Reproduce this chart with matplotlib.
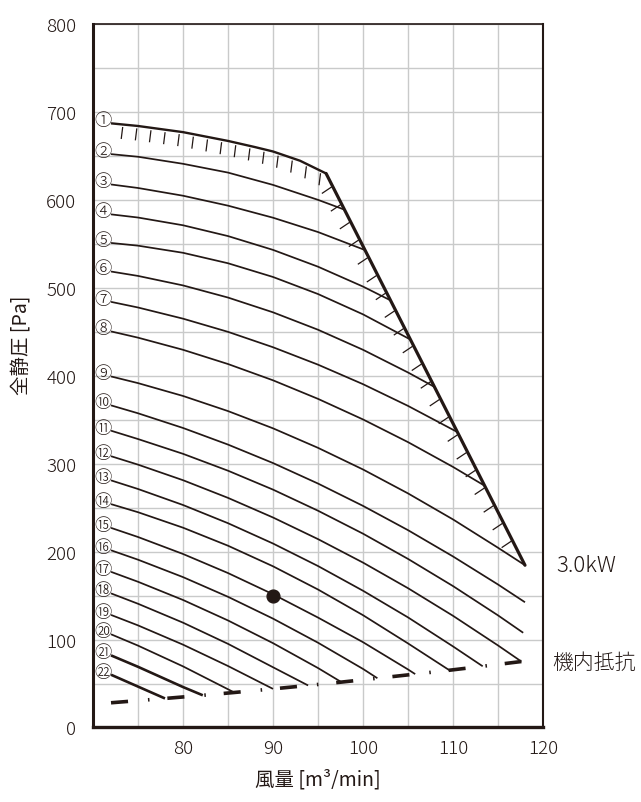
import matplotlib.pyplot as plt
import numpy as np
from matplotlib.collections import LineCollection
from matplotlib.transforms import IdentityTransform

plt.rcParams['font.family'] = ['Noto Sans CJK JP', 'DejaVu Sans']
plt.rcParams['font.weight'] = 'light'
plt.rcParams['lines.scale_dashes'] = False

INK = "#231815"
GRID = "#c9caca"

# fan curves 1..22 : airflow [m3/min] / total static pressure [Pa]
c1_x = [72, 75, 80, 85, 88, 90, 93, 95.9]
c1_p = [687, 684, 677, 667, 660, 655, 644.5, 630]
c2_x = [72, 75, 80, 85, 90, 95, 97.9]
c2_p = [652, 649, 641, 631, 617, 600, 589]
c3_x = [72, 75, 80, 85, 90, 95, 100.2]
c3_p = [617.5, 613.5, 604.7, 593.4, 579.7, 563.4, 543]
c4_x = [72, 75, 80, 85, 90, 95, 100, 103]
c4_p = [583.5, 579.9, 571.1, 558.8, 543.1, 524, 501.4, 486]
c5_x = [72, 75, 80, 85, 90, 95, 100, 105.3]
c5_p = [551, 547.9, 539.8, 527.9, 512.3, 492.9, 469.8, 441]
c6_x = [72, 75, 80, 85, 90, 95, 100, 105, 107.9]
c6_p = [518.5, 513.5, 502.7, 488.9, 472.1, 452.3, 429.5, 403.7, 387.5]
c7_x = [72, 75, 80, 85, 90, 95, 100, 105, 110.4]
c7_p = [484, 477.6, 464.9, 449.9, 432.4, 412.6, 390.4, 365.7, 336.4]
c8_x = [72, 75, 80, 85, 90, 95, 100, 105, 110, 113.5]
c8_p = [450.4, 443.3, 429.5, 413.3, 394.8, 373.7, 350.3, 324.5, 296.3, 275]
c9_x = [72, 75, 80, 85, 90, 95, 100, 105, 110, 115, 118]
c9_p = [399.2, 391.6, 377, 359.8, 340.2, 318, 293.4, 266.2, 236.6, 204.4, 184.5]
c10_x = [72, 75, 80, 85, 90, 95, 100, 105, 110, 115, 118]
c10_p = [366.3, 357.3, 340.6, 321.7, 300.7, 277.4, 252, 224.4, 194.5, 162.6, 142.4]
c11_x = [72, 75, 80, 85, 90, 95, 100, 105, 110, 115, 117.8]
c11_p = [337.5, 328, 311.2, 292, 270.5, 246.5, 220.4, 191.7, 160.8, 127.5, 107.7]
c12_x = [72, 75, 80, 85, 90, 95, 100, 105, 110, 115, 117.6]
c12_p = [308.5, 298.9, 281.2, 261.1, 238.8, 214.2, 187.5, 158.4, 127, 93.3, 75]
c13_x = [72, 75, 80, 85, 90, 95, 100, 105, 110, 113.3]
c13_p = [281, 271.2, 253, 232.3, 209.2, 183.6, 155.5, 125.2, 92.2, 69.6]
c14_x = [72, 75, 80, 85, 90, 95, 100, 105, 109.6]
c14_p = [254, 244.8, 227.2, 206.7, 183.3, 156.9, 127.7, 95.6, 65.1]
c15_x = [72, 75, 80, 85, 90, 95, 100, 105, 105.8]
c15_p = [227, 216.6, 197.3, 175.6, 151.5, 125, 97, 66, 60.7]
c16_x = [72, 75, 80, 85, 90, 95, 100, 101.6]
c16_p = [201.5, 190.8, 171, 148.6, 123.8, 96.4, 66.6, 56]
c17_x = [72, 75, 80, 85, 90, 95, 97.6]
c17_p = [177, 165.7, 145, 121.7, 95.9, 67.6, 51.6]
c18_x = [72, 75, 80, 85, 90, 93.9]
c18_p = [152.5, 140.7, 119.2, 95.1, 68.5, 47.8]
c19_x = [72, 75, 80, 85, 90]
c19_p = [128, 116.1, 94.2, 69.9, 43.9]
c20_x = [72, 75, 80, 85.7]
c20_p = [106, 93.1, 69.5, 39.8]
c21_x = [72, 75, 80, 82.2]
c21_p = [82, 69, 46, 36.6]
c22_x = [72, 75, 78]
c22_p = [60, 46.5, 33]

curves = [(c1_x, c1_p), (c2_x, c2_p), (c3_x, c3_p), (c4_x, c4_p), (c5_x, c5_p),
          (c6_x, c6_p), (c7_x, c7_p), (c8_x, c8_p), (c9_x, c9_p), (c10_x, c10_p),
          (c11_x, c11_p), (c12_x, c12_p), (c13_x, c13_p), (c14_x, c14_p),
          (c15_x, c15_p), (c16_x, c16_p), (c17_x, c17_p), (c18_x, c18_p),
          (c19_x, c19_p), (c20_x, c20_p), (c21_x, c21_p), (c22_x, c22_p)]
labels = ["①", "②", "③", "④", "⑤", "⑥", "⑦", "⑧", "⑨", "⑩", "⑪",
          "⑫", "⑬", "⑭", "⑮", "⑯", "⑰", "⑱", "⑲", "⑳", "㉑", "㉒"]

# 3.0kW limit line (from end of curve 1 down to the right)
limit_x = [95.9, 118]
limit_p = [630, 184.5]

# internal resistance (機内抵抗)
res_x = [72, 78, 82.2, 85.7, 90, 93.9, 97.6, 101.6, 105.8, 109.6, 113.3, 117.6]
res_p = [28.1, 33, 36.6, 39.8, 43.9, 47.8, 51.6, 56, 60.7, 65.1, 69.6, 75]

# operating point
op_x, op_p = 90, 150

fig = plt.figure(figsize=(6.41, 8.03), dpi=100)
ax = fig.add_axes([0.1451, 0.0928, 0.7020, 0.8761])
ax.set_xlim(70, 120)
ax.set_ylim(0, 800)
ax.set_xticks([80, 90, 100, 110, 120])
ax.set_xticks([75, 85, 95, 105, 115], minor=True)
ax.set_yticks(np.arange(0, 801, 100))
ax.set_yticks(np.arange(50, 800, 100), minor=True)
ax.grid(True, which="both", color=GRID, lw=1.0)
ax.set_axisbelow(True)
ax.tick_params(which="both", length=0, colors=INK, labelsize=13.5)
ax.tick_params(axis="y", pad=12)
ax.tick_params(axis="x", pad=8)
for side, lw in [("left", 2.2), ("bottom", 2.4), ("top", 1.2), ("right", 1.5)]:
    ax.spines[side].set_linewidth(lw)
    ax.spines[side].set_color(INK)

for i, ((xs, ps), lab) in enumerate(zip(curves, labels)):
    lw = 1.25
    if i == 0:
        lw = 1.7
    elif i >= 20:
        lw = 1.9
    ax.plot(xs, ps, color=INK, lw=lw, solid_capstyle="butt",
            solid_joinstyle="round")
    ax.text(71.1, ps[0] + 3.5, lab, fontsize=12.5, ha="center", va="center",
            color=INK)

ax.plot(limit_x, limit_p, color=INK, lw=2.3, solid_capstyle="round")
ax.plot(res_x, res_p, color=INK, lw=2.6, dash_capstyle="butt",
        linestyle=(0, (12.3, 14.4, 1.1, 12.9)))
ax.plot(op_x, op_p, "o", ms=9.2, color=INK)

# hatch ticks (display pixels)
segs = []
hx = np.arange(73.3, 95.5, 1.57)
for x, y in ax.transData.transform(np.column_stack([hx, np.interp(hx, c1_x, c1_p)])):
    segs.append([(x, y - 2.5), (x - 1.5, y - 14.5)])
p0 = ax.transData.transform((limit_x[0], limit_p[0]))
p1 = ax.transData.transform((limit_x[1], limit_p[1]))
for f in np.arange(0.034, 0.95, 0.0452):
    r = p0 + f * (p1 - p0)
    segs.append([(r[0] - 1, r[1]), (r[0] - 11, r[1] - 6.7)])
ax.add_collection(LineCollection(segs, colors=INK, linewidths=0.9,
                                 transform=IdentityTransform(), clip_on=False),
                  autolim=False)

ax.text(121.5, limit_p[1], "3.0kW", fontsize=16, va="center", ha="left",
        color=INK, clip_on=False)
ax.text(121.0, res_p[-1], "機内抵抗", fontsize=15, va="center", ha="left",
        color=INK, clip_on=False)

ax.set_ylabel("全静圧 [Pa]", fontsize=14, color=INK)
ax.yaxis.set_label_coords(-0.136, 0.545)
ax.set_xlabel("風量 [m³/min]", fontsize=14, color=INK)
ax.xaxis.set_label_coords(0.5, -0.058)

fig.savefig("out.png", dpi=100)
